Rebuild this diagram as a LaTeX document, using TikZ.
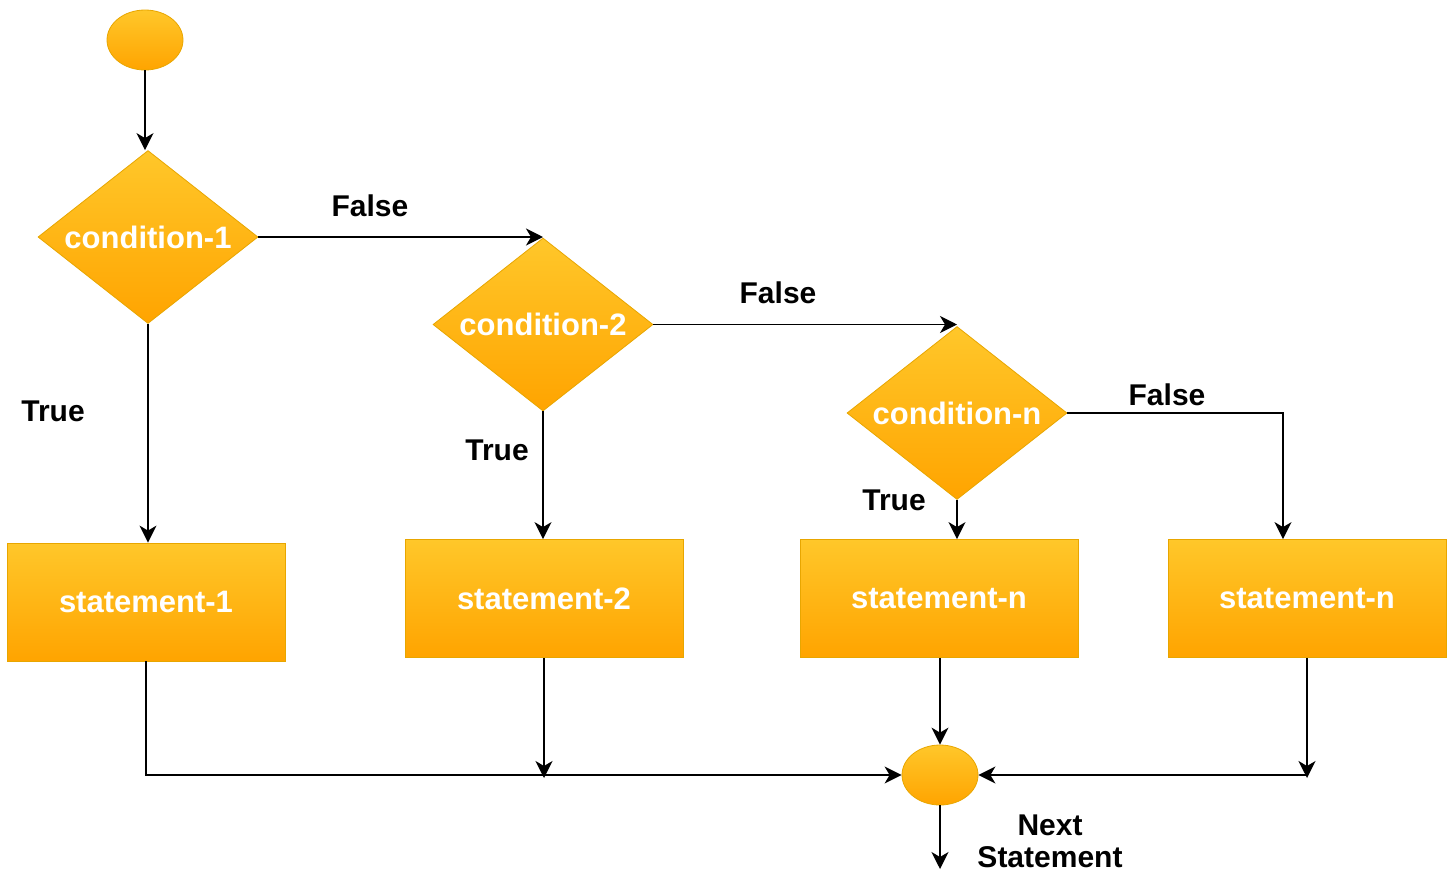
\documentclass[tikz,border=0pt]{standalone}
\usepackage{fontspec}
\setmainfont{Liberation Sans}
\usetikzlibrary{shapes.geometric,arrows.meta}
\definecolor{flowtop}{HTML}{FFC72A}
\definecolor{flowbot}{HTML}{FFA400}
\definecolor{flowedge}{HTML}{E8A600}
\tikzset{
  base/.style={draw=flowedge, line width=0.8pt, top color=flowtop, bottom color=flowbot,
    text=white, font=\fontsize{31}{36}\selectfont\bfseries, inner sep=0pt},
  decision/.style={base, diamond, aspect=1.27, minimum width=220pt, minimum height=173pt},
  stmtbox/.style={base, rectangle, minimum width=278pt, minimum height=118pt},
  terminal/.style={base, ellipse, minimum width=76pt, minimum height=60pt},
  lbl/.style={font=\fontsize{30}{36}\selectfont\bfseries, text=black, inner sep=0pt},
  arr/.style={line width=1.6pt, draw=black, -{Stealth[length=17pt,width=17pt,inset=5pt]}},
}
\begin{document}
\begin{tikzpicture}[x=1pt,y=-1pt]
  \useasboundingbox (0,0) rectangle (1448,871);

  % start and merge points
  \node[terminal] (start) at (145,40) {};
  \node[terminal] (merge) at (940,775) {};

  % decisions
  \node[decision] (c1) at (148,237) {condition-1};
  \node[decision] (c2) at (543,324.5) {condition-2};
  \node[decision] (cn) at (957,413) {condition-n};

  % statements
  \node[stmtbox] (s1) at (146,602) {statement-1};
  \node[stmtbox] (s2) at (544,598.5) {statement-2};
  \node[stmtbox] (sn) at (939,598.5) {statement-n};
  \node[stmtbox] (sm) at (1307,598.5) {statement-n};

  % branch labels
  \node[lbl] (f1) at (370,206) {False};
  \node[lbl] (f2) at (778,293) {False};
  \node[lbl] (f3) at (1167,395) {False};
  \node[lbl] (t1) at (53,411) {True};
  \node[lbl] (t2) at (497,450) {True};
  \node[lbl] (t3) at (894,500) {True};
  \node[lbl, align=center] (nx) at (1050,841) {Next\\[-4pt]Statement};

  \coordinate (join) at (1307,775);
  \coordinate (exit) at (940,869);

  % decision flow
  \draw[arr] (start.south) -- (c1.north -| start.south);
  \draw[arr] (c1.east) -- (c1.east -| c2.north);
  \draw[arr] (c2.east) -- (c2.east -| cn.north);
  \draw[arr] (cn.east) -| ([xshift=-24pt]sm.north);
  \draw[arr] (c1.south) -- (s1.north -| c1.south);
  \draw[arr] (c2.south) -- (s2.north -| c2.south);
  \draw[arr] (cn.south) -- (sn.north -| cn.south);

  % merging into the next statement
  \draw[arr] (s1.south) |- (merge.west);
  \draw[arr] (s2.south) -- ([yshift=-3pt]s2.south |- merge.west);
  \draw[arr] (sn.south -| merge.north) -- (merge.north);
  \draw[arr] (sm.south) -- ([yshift=-3pt]join);
  \draw[arr] (join) -- (merge.east);
  \draw[arr] (merge.south) -- (exit);
\end{tikzpicture}
\end{document}
